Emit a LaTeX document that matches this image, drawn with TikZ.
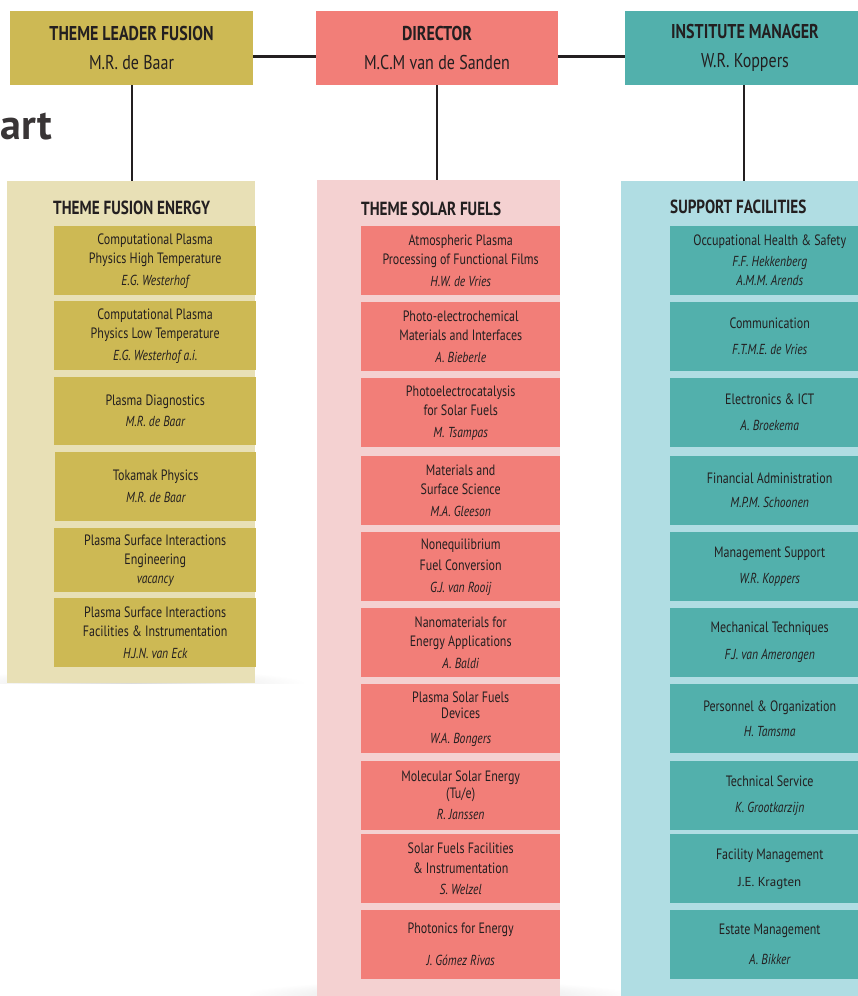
\documentclass[tikz,border=0pt]{standalone}
\usepackage{fontspec}
\setmainfont{PT Sans}[FakeStretch=0.8]
\newfontfamily\artfont{PT Sans}

\definecolor{fusdark}{HTML}{CDB954}
\definecolor{fuslight}{HTML}{E8E0B6}
\definecolor{soldark}{HTML}{F27E78}
\definecolor{sollight}{HTML}{F4D1D1}
\definecolor{supdark}{HTML}{52B0AC}
\definecolor{suplight}{HTML}{B0DDE3}
\definecolor{ink}{HTML}{231F20}

\newcommand{\who}[1]{{\fontsize{14.5}{16}\selectfont\itshape #1}}

\begin{document}
\begin{tikzpicture}[x=1pt, y=-1pt,
    every node/.style={text=ink, inner sep=0pt, font=\fontsize{15}{19}\selectfont},
    headbox/.style={minimum width=243, minimum height=74, align=center, font=\fontsize{20}{29}\selectfont},
    panel/.style={anchor=north west},
    unit/.style={anchor=north west, minimum width=199, minimum height=69, align=center},
    fusunit/.style={unit, fill=fusdark, minimum width=202},
    solunit/.style={unit, fill=soldark},
    supunit/.style={unit, fill=supdark},
    paneltitle/.style={anchor=west, font=\bfseries\fontsize{19}{22}\selectfont},
    link/.style={ink, line width=2pt}]
    \useasboundingbox (0,0) rectangle (858,996);

    % heads
    \node[headbox, fill=fusdark] (lead) at (131.5,48) {\textbf{THEME LEADER FUSION}\\M.R. de Baar};
    \node[headbox, fill=soldark, minimum width=242] (dir) at (437,48) {\textbf{DIRECTOR}\\M.C.M van de Sanden};
    \node[headbox, fill=supdark, minimum width=240] (man) at (745,48) {\textbf{INSTITUTE MANAGER}\\W.R. Koppers};

    \node[anchor=west, font=\artfont\bfseries\fontsize{42}{44}\selectfont, text=ink!90] (art) at (0,127) {art};

    % soft shadows under the panels
    \begin{scope}
        \clip (0,650) rectangle (320,683);
        \shade[inner color=black!14, outer color=white] (131,683) ellipse (175 and 14);
    \end{scope}
    \begin{scope}
        \clip (250,960) rectangle (640,996);
        \shade[inner color=black!14, outer color=white] (438,996) ellipse (200 and 16);
    \end{scope}

    % panels
    \node[panel, fill=fuslight, minimum width=248, minimum height=502] (fpanel) at (7,181) {};
    \node[panel, fill=sollight, minimum width=243, minimum height=820] (spanel) at (317,180) {};
    \node[panel, fill=suplight, minimum width=243, minimum height=820] (ppanel) at (621,181) {};

    \draw[ink, line width=3pt] ([yshift=-8pt]lead.east) -- ([yshift=-8pt]dir.west);
    \draw[ink, line width=3pt] ([yshift=-8pt]dir.east) -- ([yshift=-8pt]man.west);
    \draw[link] (lead) -- (lead |- fpanel.north);
    \draw[link] (dir) -- (dir |- spanel.north);
    \draw[link] ([xshift=-1pt]man.south) -- ([xshift=-1pt]man.south |- ppanel.north);

    \node[paneltitle] (ftitle) at (53,208) {THEME FUSION ENERGY};
    \node[paneltitle] (stitle) at (361,209) {THEME SOLAR FUELS};
    \node[paneltitle] (ptitle) at (670,207) {SUPPORT FACILITIES};

    % fusion energy
    \node[fusunit] (f1) at (54,226) {Computational Plasma\\Physics High Temperature\\[3pt]\who{E.G. Westerhof}};
    \node[fusunit] (f2) at (54,301) {Computational Plasma\\Physics Low Temperature\\[3pt]\who{E.G. Westerhof a.i.}};
    \node[fusunit, minimum height=68] (f3) at (54,377) {Plasma Diagnostics\\[2pt]\who{M.R. de Baar}};
    \node[fusunit, minimum width=201] (f4) at (55,452) {Tokamak Physics\\[3pt]\who{M.R. de Baar}};
    \node[fusunit, minimum height=64] (f5) at (54,528) {Plasma Surface Interactions\\Engineering\\\who{vacancy}};
    \node[fusunit] (f6) at (54,598) {Plasma Surface Interactions\\Facilities \& Instrumentation\\[3pt]\who{H.J.N. van Eck}};

    % solar fuels
    \node[solunit] (s1) at (361,226) {Atmospheric Plasma\\Processing of Functional Films\\[3pt]\who{H.W. de Vries}};
    \node[solunit] (s2) at (361,302) {Photo-electrochemical\\Materials and Interfaces\\[3pt]\who{A. Bieberle}};
    \node[solunit] (s3) at (361,378) {Photoelectrocatalysis\\for Solar Fuels\\[3pt]\who{M. Tsampas}};
    \node[solunit] (s4) at (361,456) {Materials and\\Surface Science\\[3pt]\who{M.A. Gleeson}};
    \node[solunit] (s5) at (361,532) {Nonequilibrium\\[2pt]Fuel Conversion\\[3pt]\who{G.J. van Rooij}};
    \node[solunit] (s6) at (361,608) {Nanomaterials for\\Energy Applications\\[3pt]\who{A. Baldi}};
    \node[solunit] (s7) at (361,684) {Plasma Solar Fuels\\[-3pt]Devices\\[6pt]\who{W.A. Bongers}};
    \node[solunit] (s8) at (361,761) {Molecular Solar Energy\\[-2pt](Tu/e)\\[2pt]\who{R. Janssen}};
    \node[solunit] (s9) at (361,834) {Solar Fuels Facilities\\[1pt]\& Instrumentation\\[2pt]\who{S. Welzel}};
    \node[solunit] (s10) at (361,910) {Photonics for Energy\\[13pt]\who{J. G\'omez Rivas}};

    % support facilities
    \node[supunit] (p1) at (670,226) {Occupational Health \& Safety\\[2pt]\who{F.F. Hekkenberg}\\\who{A.M.M. Arends}};
    \node[supunit] (p2) at (670,302) {Communication\\[7pt]\who{F.T.M.E. de Vries}};
    \node[supunit] (p3) at (670,378) {Electronics \& ICT\\[7pt]\who{A. Broekema}};
    \node[supunit] (p4) at (670,456) {Financial Administration\\[5pt]\who{M.P.M. Schoonen}};
    \node[supunit] (p5) at (670,532) {Management Support\\[7pt]\who{W.R. Koppers}};
    \node[supunit] (p6) at (670,608) {Mechanical Techniques\\[8pt]\who{F.J. van Amerongen}};
    \node[supunit] (p7) at (670,684) {Personnel \& Organization\\[6pt]\who{H. Tamsma}};
    \node[supunit] (p8) at (670,761) {Technical Service\\[7pt]\who{K. Grootkarzijn}};
    \node[supunit] (p9) at (670,834) {Facility Management\\[8pt]{\artfont\fontsize{13}{16}\selectfont J.E. Kragten}};
    \node[supunit] (p10) at (670,910) {Estate Management\\[11pt]\who{A. Bikker}};
\end{tikzpicture}
\end{document}
